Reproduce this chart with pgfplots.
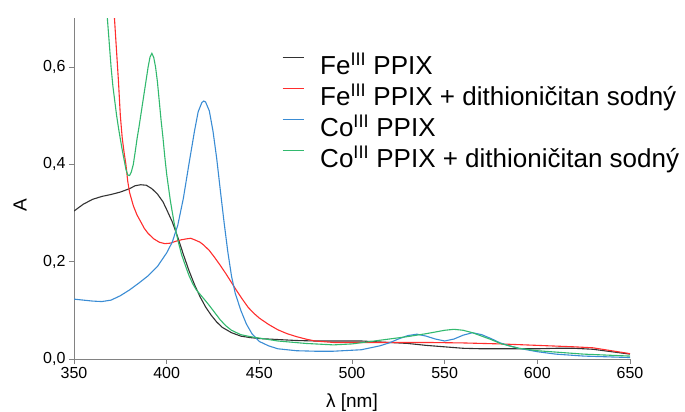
\documentclass[border=0pt]{standalone}
\usepackage{fontspec}
\setmainfont{Liberation Sans}
\usepackage{pgfplots}
\pgfplotsset{compat=1.18}

\definecolor{cFe}{RGB}{50,50,50}
\definecolor{cFeD}{RGB}{255,45,45}
\definecolor{cCo}{RGB}{58,140,212}
\definecolor{cCoD}{RGB}{50,185,110}
\definecolor{axgray}{RGB}{130,130,130}

\begin{document}
\begin{tikzpicture}
\useasboundingbox (0,0) rectangle (685pt,412pt);
\begin{axis}[
  at={(74pt,53pt)}, anchor=south west,
  scale only axis, width=556pt, height=340.7pt,
  xmin=350, xmax=650, ymin=0, ymax=0.7,
  clip mode=individual,
  axis x line=bottom, axis y line=left,
  axis line style={-, draw=axgray, line width=0.8pt},
  xtick={350,400,...,650}, ytick={0,0.2,0.4,0.6},
  tick align=outside, major tick length=5pt,
  tick style={draw=axgray, line width=0.8pt},
  ticklabel style={font=\fontsize{16}{19}\selectfont},
  /pgf/number format/assume math mode=true,
  yticklabel style={/pgf/number format/.cd, fixed, fixed zerofill, precision=1, use comma},
  xticklabel style={/pgf/number format/.cd, set thousands separator={}},
  xlabel={λ [nm]},
  label style={font=\fontsize{19}{22}\selectfont},
  xlabel style={at={(axis description cs:0.5,-0.127)}, anchor=center},
  legend style={at={(axis description cs:0.374,0.892)}, anchor=north west,
    draw=none, fill=none, inner sep=0pt, row sep=6pt, column sep=0pt,
    nodes={inner sep=0pt, text height=19pt, text depth=6pt},
    font=\fontsize{26}{31}\selectfont},
  legend cell align=left,
  legend image code/.code={\draw[#1] (0pt,10.5pt) -- (21pt,10.5pt); \path (37pt,-10.5pt);},
  every axis plot/.append style={line width=1.1pt},
]
% y-axis title, set vertically beside the tick labels
\node[rotate=90, anchor=center, font=\fontsize{19}{22}\selectfont]
  at (axis description cs:-0.097,0.452) {A};
% Fe(III) protoporphyrin IX
\addplot[cFe] coordinates {
(350,0.304)(355,0.318)(360,0.328)(365,0.334)(370,0.338)(375,0.343)(380,0.350)
(383,0.356)(386,0.358)(389,0.357)(392,0.350)(395,0.339)(398,0.323)(400,0.307)
(403,0.282)(406,0.250)(409,0.215)(412,0.182)(415,0.153)(418,0.128)(421,0.107)
(424,0.090)(427,0.076)(430,0.065)(435,0.054)(440,0.047)(445,0.044)(450,0.042)
(460,0.040)(470,0.038)(480,0.037)(490,0.037)(500,0.037)(505,0.037)(510,0.036)
(520,0.034)(530,0.032)(540,0.028)(550,0.025)(560,0.022)(570,0.021)(580,0.021)
(590,0.021)(600,0.021)(610,0.022)(620,0.022)(630,0.020)(640,0.015)(650,0.010)};
\addlegendentry{Fe\textsuperscript{III} PPIX}
% Fe(III) PPIX reduced with sodium dithionite
\addplot[cFeD] coordinates {
(371,0.75)(372,0.69)(373,0.63)(374,0.57)(375,0.50)(376,0.455)(377,0.425)
(378,0.40)(379,0.365)(380,0.342)(382,0.315)(384,0.296)(386,0.282)(388,0.268)
(390,0.258)(393,0.247)(396,0.240)(399,0.237)(402,0.238)(405,0.242)(408,0.245)
(411,0.247)(413,0.248)(415,0.245)(418,0.240)(420,0.234)(423,0.223)(426,0.208)
(429,0.192)(432,0.175)(435,0.157)(438,0.139)(441,0.122)(444,0.106)(447,0.094)
(450,0.084)(455,0.071)(460,0.060)(465,0.052)(470,0.046)(475,0.041)(480,0.037)
(490,0.034)(500,0.034)(520,0.034)(540,0.034)(560,0.033)(580,0.031)(600,0.028)
(620,0.025)(630,0.023)(640,0.017)(650,0.011)};
\addlegendentry{Fe\textsuperscript{III} PPIX + dithioničitan sodný}
% Co(III) protoporphyrin IX
\addplot[cCo] coordinates {
(350,0.123)(355,0.121)(360,0.119)(365,0.118)(370,0.121)(375,0.130)(380,0.142)
(385,0.156)(390,0.171)(395,0.190)(400,0.218)(403,0.240)(406,0.275)(409,0.330)
(412,0.400)(415,0.468)(417,0.508)(419,0.527)(420,0.530)(421,0.528)(423,0.510)
(425,0.468)(427,0.412)(429,0.345)(431,0.280)(433,0.220)(435,0.170)(437,0.135)
(440,0.100)(443,0.072)(446,0.052)(450,0.036)(455,0.027)(460,0.021)(470,0.017)
(480,0.016)(490,0.016)(500,0.018)(505,0.019)(510,0.023)(515,0.027)(520,0.033)
(525,0.041)(530,0.048)(535,0.051)(540,0.047)(545,0.041)(550,0.037)(555,0.041)
(560,0.049)(565,0.054)(570,0.050)(575,0.042)(580,0.033)(585,0.027)(590,0.022)
(600,0.015)(610,0.010)(625,0.006)(650,0.003)};
\addlegendentry{Co\textsuperscript{III} PPIX}
% Co(III) PPIX reduced with sodium dithionite
\addplot[cCoD] coordinates {
(367.5,0.75)(368,0.70)(369,0.65)(370,0.60)(371,0.56)(372,0.53)(373,0.50)
(374,0.475)(375,0.452)(376,0.43)(377,0.41)(378,0.39)(379,0.378)(380,0.377)
(381,0.385)(382,0.40)(383,0.425)(384,0.452)(385,0.475)(386,0.50)(387,0.525)
(388,0.55)(389,0.575)(390,0.600)(391,0.620)(392,0.628)(393,0.620)(394,0.600)
(395,0.57)(396,0.53)(397,0.49)(398,0.455)(399,0.415)(400,0.38)(402,0.325)
(404,0.28)(406,0.245)(408,0.215)(410,0.193)(412,0.172)(414,0.155)(416,0.142)
(418,0.133)(420,0.124)(423,0.110)(426,0.095)(429,0.080)(432,0.068)(435,0.059)
(440,0.050)(445,0.046)(450,0.043)(460,0.037)(475,0.032)(490,0.029)(500,0.031)
(510,0.036)(520,0.041)(530,0.046)(540,0.052)(550,0.059)(555,0.061)(560,0.059)
(565,0.054)(570,0.047)(575,0.040)(580,0.032)(590,0.022)(600,0.017)(625,0.010)
(650,0.006)};
\addlegendentry{Co\textsuperscript{III} PPIX + dithioničitan sodný}
\end{axis}
\end{tikzpicture}
\end{document}
